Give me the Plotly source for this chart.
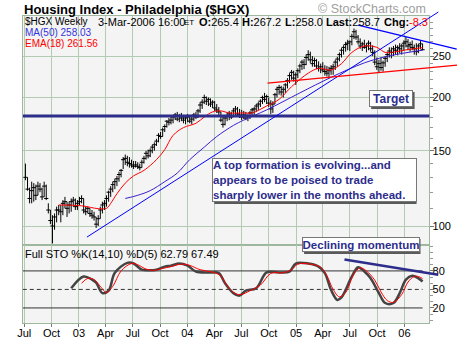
import pandas as pd
import numpy as np
import plotly.graph_objects as go

W, H = 460, 340

# ---------------- weekly price bars ($HGX) ----------------
high = [140,130,123,127,126,125,127,126,123,127,125,113,109,106,107,111,112,112,115,117,
        114,114,116,117,116,115,117,118,116,111,111,110,109,108,105,106,111,114,115,118,
        121,124,127,129,131,134,136,145,147,146,145,143,142,142,141,140,143,146,150,151,
        152,155,157,160,165,166,170,173,177,179,180,182,184,185,183,184,182,181,183,182,
        181,184,185,188,195,198,203,201,200,199,197,196,193,190,185,181,182,184,186,185,
        189,191,190,188,187,186,185,183,186,189,190,193,195,198,202,205,203,200,197,196,
        205,212,214,213,212,216,222,228,232,231,229,234,240,245,246,252,258,256,250,248,
        246,243,240,242,238,237,236,238,240,245,249,255,261,265,270,273,272,282,290,288,
        280,275,270,273,268,272,270,265,258,248,245,248,244,250,256,262,262,264,266,265,
        268,267,272,277,274,270,272,266,268,267,271,267.2]
low = [128,121,113,113,114,115,118,120,115,117,115,107,101,91,98,102,106,102,106,110,
       105,107,108,111,109,109,112,113,107,106,107,105,104,103,99,100,104,107,109,111,
       114,117,120,122,124,127,130,136,139,138,137,137,136,137,136,135,137,140,143,144,
       145,148,150,154,157,160,162,166,170,172,173,174,177,176,175,176,174,173,175,174,
       173,176,178,179,184,188,193,192,191,190,189,186,184,181,175,170,172,176,177,178,
       180,182,181,179,177,178,177,176,178,181,182,185,187,190,193,195,193,190,183,184,
       193,200,203,202,200,205,210,216,220,218,214,222,228,232,233,238,244,241,236,236,
       233,230,228,229,225,224,222,226,226,232,236,243,248,252,256,258,257,265,274,273,
       266,260,257,260,255,258,256,250,238,232,229,231,230,236,242,248,247,250,252,251,
       254,252,257,262,258,256,258,252,251,254,260,258.0]
close = [130,122,116,121,123,118,124,122,117,124,116,109,103,100,105,109,109,108,113,114,
         110,112,114,115,111,113,114,116,109,108,110,107,106,105,101,104,109,112,113,116,
         120,122,125,127,129,132,135,143,144,141,140,139,138,139,138,137,141,144,148,146,
         150,153,155,158,163,162,168,171,176,175,177,180,182,178,181,179,177,179,180,176,
         178,182,180,186,192,195,200,196,198,193,195,189,187,185,177,173,179,181,183,180,
         186,188,183,182,180,182,179,181,184,187,188,191,193,196,200,198,201,194,188,193,
         203,209,211,206,209,214,219,225,229,222,226,231,237,242,239,248,252,245,240,244,
         237,234,236,232,230,228,231,234,236,242,246,252,258,262,266,268,270,278,285,277,
         270,264,267,262,264,268,260,255,242,236,240,235,241,247,252,257,255,260,258,262,
         260,264,268,270,264,266,262,260,256,264,267,258.7]
week_dates = pd.date_range("2002-07-05", periods=len(close), freq="7D")

# ---------------- overlays ----------------
ema18_dates = ["2002-10-25","2003-01-10","2003-03-07","2003-04-04","2003-04-18","2003-05-09",
               "2003-06-06","2003-07-04","2003-08-08","2003-09-19","2003-10-17","2003-11-14",
               "2003-12-19","2004-01-30","2004-02-27","2004-03-26","2004-04-23","2004-05-21",
               "2004-07-09","2004-08-06","2004-09-24","2004-11-05","2004-12-17","2005-02-11",
               "2005-03-18","2005-04-29","2005-06-03","2005-07-08","2005-08-19","2005-09-30",
               "2005-10-28","2005-11-18","2006-01-13","2006-03-03"]
ema18_vals = [112,111.5,109.8,110,113,119,126,131,135,143,151,163,170,174,180,185,186,184,
              184,184,191,198,212,228,234,232,240,255,264,262,255,255,259,261.56]

ma50_dates = ["2003-06-06","2003-07-18","2003-08-29","2003-10-17","2003-11-28","2004-01-09",
              "2004-02-27","2004-04-09","2004-06-04","2004-07-09","2004-09-24","2005-01-14",
              "2005-04-29","2005-08-19","2005-10-28","2006-01-13","2006-03-03"]
ma50_vals = [116,118,121,127,133,143,153,162,172,177,187,205,223,241,249,255,258.03]

stok_dates = ["2002-12-06","2003-01-17","2003-02-14","2003-02-28","2003-03-21","2003-04-11",
              "2003-05-02","2003-06-13","2003-07-04","2003-08-01","2003-08-29","2003-09-19",
              "2003-10-17","2003-11-07","2003-12-05","2004-01-02","2004-01-30","2004-03-19",
              "2004-04-16","2004-05-07","2004-06-04","2004-06-25","2004-07-16","2004-08-20",
              "2004-09-24","2004-11-05","2004-12-10","2004-12-31","2005-02-11","2005-03-18",
              "2005-04-08","2005-04-29","2005-05-20","2005-06-03","2005-07-08","2005-07-29",
              "2005-08-19","2005-09-09","2005-10-07","2005-10-28","2005-11-25","2005-12-16",
              "2006-01-06","2006-01-27","2006-02-17","2006-03-03"]
stok_vals = [52,71,66,61,44,48,77,93,92,82,81,82,87,88.5,92,88.5,79,77.5,76.5,60,44,40,48,52,
             77.5,77.5,79,92,92,87,76.5,49,33,37,71,86,79,68,44,28,28,44,66,72,68,62.79]

stod_dates = ["2003-01-10","2003-01-31","2003-02-21","2003-03-14","2003-04-04","2003-04-25",
              "2003-05-23","2003-06-27","2003-07-18","2003-08-15","2003-09-12","2003-10-10",
              "2003-11-07","2003-12-12","2004-01-09","2004-02-13","2004-03-26","2004-04-23",
              "2004-05-14","2004-06-11","2004-07-02","2004-07-30","2004-09-03","2004-10-08",
              "2004-11-19","2004-12-17","2005-01-07","2005-02-18","2005-03-25","2005-04-15",
              "2005-05-06","2005-05-27","2005-06-17","2005-07-15","2005-08-05","2005-08-26",
              "2005-09-23","2005-10-14","2005-11-04","2005-11-25","2005-12-23","2006-01-13",
              "2006-02-03","2006-02-17","2006-03-03"]
stod_vals = [60,68,66,55,45,55,80,92,90,83,81,84,87,91,89,82,78,72,56,43,42,48,57,76,77,82,
             91,91,86,72,50,38,45,75,85,80,65,46,32,29,42,62,71,71,67.49]

target_level = 181
steep_dates = ["2003-01-28", "2006-04-25"];  steep_vals = [94.2, 317]
resist_dates = ["2005-07-29", "2006-06-26"]; resist_vals = [295.6, 259.4]
support_dates = ["2004-09-27", "2006-06-27"]; support_vals = [216, 238]
mom_dates = ["2005-06-13", "2006-04-25"];    mom_vals = [98.4, 73.8]
sto_levels = [80, 50, 20]

x_tick_dates = ["2002-07-01","2002-10-01","2003-01-01","2003-04-01","2003-07-01","2003-10-01",
                "2004-01-01","2004-04-01","2004-07-01","2004-10-01","2005-01-01","2005-04-01",
                "2005-07-01","2005-10-01","2006-01-01"]
x_tick_text = ["Jul","Oct","03","Apr","Jul","Oct","04","Apr","Jul","Oct","05","Apr","Jul","Oct","06"]
y_tick_vals = [100, 150, 200, 250]
y_minor_vals = list(range(90, 310, 10))

# ---------------- geometry ----------------
L, R, TOP, MID, BOT = 17, 429, 16, 245, 323
t0 = pd.Timestamp("2002-06-26"); t1 = pd.Timestamp("2006-03-26")
t1_ext = t0 + (t1 - t0) * ((W - L) / (R - L))
ya, yb = 1.9555, 2.4918
yb_ext = ya + (yb - ya) * (MID / (MID - TOP))
s0, s1 = -4.4, 122

def px(x): return x / W
def py(y): return 1 - y / H

FONT = "Liberation Sans, Arial, sans-serif"
GRID = "#B3CAB3"
BORDER = "#9DB89D"
NAVY = "#2D2D8C"

fig = go.Figure()

close_arr = np.array(close, dtype=float)
fig.add_trace(go.Scatter(
    x=week_dates, y=close_arr, mode="markers", xaxis="x", yaxis="y",
    marker=dict(symbol="line-ew", size=3, color="black", line=dict(width=1, color="black")),
    error_y=dict(type="data", symmetric=False,
                 array=np.array(high) - close_arr, arrayminus=close_arr - np.array(low),
                 thickness=1, width=0, color="black"),
    hoverinfo="skip"))
fig.add_trace(go.Scatter(x=ma50_dates, y=ma50_vals, mode="lines", xaxis="x", yaxis="y",
                         line=dict(color="#3A1FD0", width=1, shape="spline")))
fig.add_trace(go.Scatter(x=ema18_dates, y=ema18_vals, mode="lines", xaxis="x", yaxis="y",
                         line=dict(color="#FF0000", width=1, shape="spline")))

# stochastic panel
for lv in sto_levels:
    fig.add_trace(go.Scatter(x=[t0, week_dates[-1]], y=[lv, lv], mode="lines", xaxis="x2", yaxis="y2",
                             line=dict(color="#333333", width=1, dash="4px,3px" if lv == 50 else "solid")))
fig.add_trace(go.Scatter(x=stok_dates, y=stok_vals, mode="lines", xaxis="x2", yaxis="y2",
                         line=dict(color="#444444", width=2.5, shape="spline")))
fig.add_trace(go.Scatter(x=stod_dates, y=stod_vals, mode="lines", xaxis="x2", yaxis="y2",
                         line=dict(color="#FF0000", width=1, shape="spline")))

# trend lines (extended overlay axes, same scale)
fig.add_trace(go.Scatter(x=[t0, t1], y=[target_level, target_level], mode="lines", xaxis="x3", yaxis="y3",
                         line=dict(color=NAVY, width=3)))
fig.add_trace(go.Scatter(x=steep_dates, y=steep_vals, mode="lines", xaxis="x3", yaxis="y3",
                         line=dict(color="#0000FF", width=1)))
fig.add_trace(go.Scatter(x=resist_dates, y=resist_vals, mode="lines", xaxis="x3", yaxis="y3",
                         line=dict(color="#0000FF", width=1.3)))
fig.add_trace(go.Scatter(x=support_dates, y=support_vals, mode="lines", xaxis="x3", yaxis="y3",
                         line=dict(color="#FF0000", width=1.3)))
fig.add_trace(go.Scatter(x=mom_dates, y=mom_vals, mode="lines", xaxis="x4", yaxis="y4",
                         line=dict(color=NAVY, width=2.5)))

xcommon = dict(type="date", range=[t0, t1], tickmode="array", tickvals=x_tick_dates,
               showgrid=True, gridcolor=GRID, gridwidth=1, zeroline=False,
               showline=True, linecolor=BORDER, linewidth=1, mirror=True)
fig.update_layout(
    width=W, height=H, margin=dict(l=0, r=0, t=0, b=0),
    paper_bgcolor="white", plot_bgcolor="rgba(0,0,0,0)", showlegend=False,
    font=dict(family=FONT, size=11, color="black"),
    xaxis=dict(domain=[px(L), px(R)], anchor="y", showticklabels=False, ticks="", **xcommon),
    yaxis=dict(domain=[py(MID), py(TOP)], anchor="x", type="log", range=[ya, yb], side="right",
               tickmode="array", tickvals=y_tick_vals, ticktext=[str(v) for v in y_tick_vals],
               ticks="outside", ticklen=4, tickcolor="#777777", ticklabelstandoff=-4,
               minor=dict(tickmode="array", tickvals=y_minor_vals, ticks="outside", ticklen=3,
                          tickcolor="#999999", showgrid=False),
               showgrid=True, gridcolor=GRID, zeroline=False,
               showline=True, linecolor=BORDER, mirror=True,
               tickfont=dict(size=11, family=FONT, color="black")),
    xaxis2=dict(domain=[px(L), px(R)], anchor="y2", ticktext=x_tick_text, ticks="outside", ticklen=3,
                tickcolor="#777777", ticklabelstandoff=-3,
                tickfont=dict(size=11, family=FONT, color="black"), **xcommon),
    yaxis2=dict(domain=[py(BOT), py(MID)], anchor="x2", range=[s0, s1], side="right",
                tickmode="array", tickvals=sto_levels, ticktext=[str(v) for v in sto_levels],
                ticks="outside", ticklen=4, tickcolor="#777777", ticklabelstandoff=-4,
                minor=dict(dtick=10, tick0=0, ticks="outside", ticklen=3, tickcolor="#999999", showgrid=False),
                showgrid=False, zeroline=False, showline=True, linecolor=BORDER, mirror=True,
                tickfont=dict(size=11, family=FONT, color="black")),
    xaxis3=dict(domain=[px(L), 1], anchor="y3", type="date", range=[t0, t1_ext], visible=False),
    yaxis3=dict(domain=[py(MID), 1], anchor="x3", type="log", range=[ya, yb_ext], visible=False),
    xaxis4=dict(domain=[px(L), 1], anchor="y4", type="date", range=[t0, t1_ext], visible=False),
    yaxis4=dict(domain=[py(BOT), py(MID)], anchor="x4", range=[s0, s1], visible=False),
)

# plot backgrounds
for (y0, y1) in [(TOP, MID), (MID, BOT)]:
    fig.add_shape(type="rect", xref="paper", yref="paper", x0=px(L), x1=px(R), y0=py(y1), y1=py(y0),
                  fillcolor="#F4F4F4", line=dict(width=0), layer="below")

def note(text, x, y, size=11, color="black", xanchor="left", yanchor="middle", **kw):
    fig.add_annotation(text=text, x=px(x), y=py(y), xref="paper", yref="paper", showarrow=False,
                       xanchor=xanchor, yanchor=yanchor, font=dict(family=FONT, size=size, color=color), **kw)

note("<b>Housing Index - Philadelphia ($HGX)</b>", 16, 9, size=13)
note("© StockCharts.com", 428, 9, size=12.5, color="#A0A0A0", xanchor="right")
# three stacked legend lines as one text block (tight line spacing like the original)
note("<span style='font-size:10px'>$HGX Weekly</span><br>"
     "<span style='font-size:10px;color:#3333DD'>MA(50) 258.03</span><br>"
     "<span style='font-size:10px;color:#FF0000'>EMA(18) 261.56</span>",
     17, 32.3, size=8.6, align="left")
note("3-Mar-2006 16:00", 91, 22)
note("ET", 178, 23, size=8)
note("<b>O:</b>265.4", 194, 22)
note("<b>H:</b>267.2", 237, 22)
note("<b>L:</b>258.0", 281, 22)
note("<b>Last:</b>258.7", 322, 22)
note("<b>Chg:</b>", 381, 22)
note("-8.3", 406, 22, color="#FF0000")
note("Full STO %K(14,10) %D(5) 62.79 67.49", 17, 253.5)

def boxed(text, x0, y0, w, h, size, align="left"):
    # drop shadow (shape) then white box with text
    fig.add_shape(type="rect", xref="paper", yref="paper",
                  x0=px(x0 + 2), x1=px(x0 + w + 4), y0=py(y0 + h + 4), y1=py(y0 + 2),
                  fillcolor="#5A5A5A", line=dict(width=0), layer="above")
    fig.add_annotation(text=text, x=px(x0), y=py(y0), xref="paper", yref="paper", showarrow=False,
                       xanchor="left", yanchor="top", width=w, height=h, align=align, valign="middle",
                       bgcolor="white", bordercolor="#777777", borderwidth=1, borderpad=0,
                       font=dict(family=FONT, size=size, color=NAVY))

boxed("<b>Target</b>", 368, 90, 42, 15, 12, align="center")
boxed("<b>A top formation is evolving...and<br>appears to be poised to trade<br>sharply lower in the months ahead.</b>",
      209, 158, 203, 42, 11.5)
boxed("<b>Declining momentum</b>", 300, 237, 116, 13, 11.5, align="center")

fig.write_html("out.html")
